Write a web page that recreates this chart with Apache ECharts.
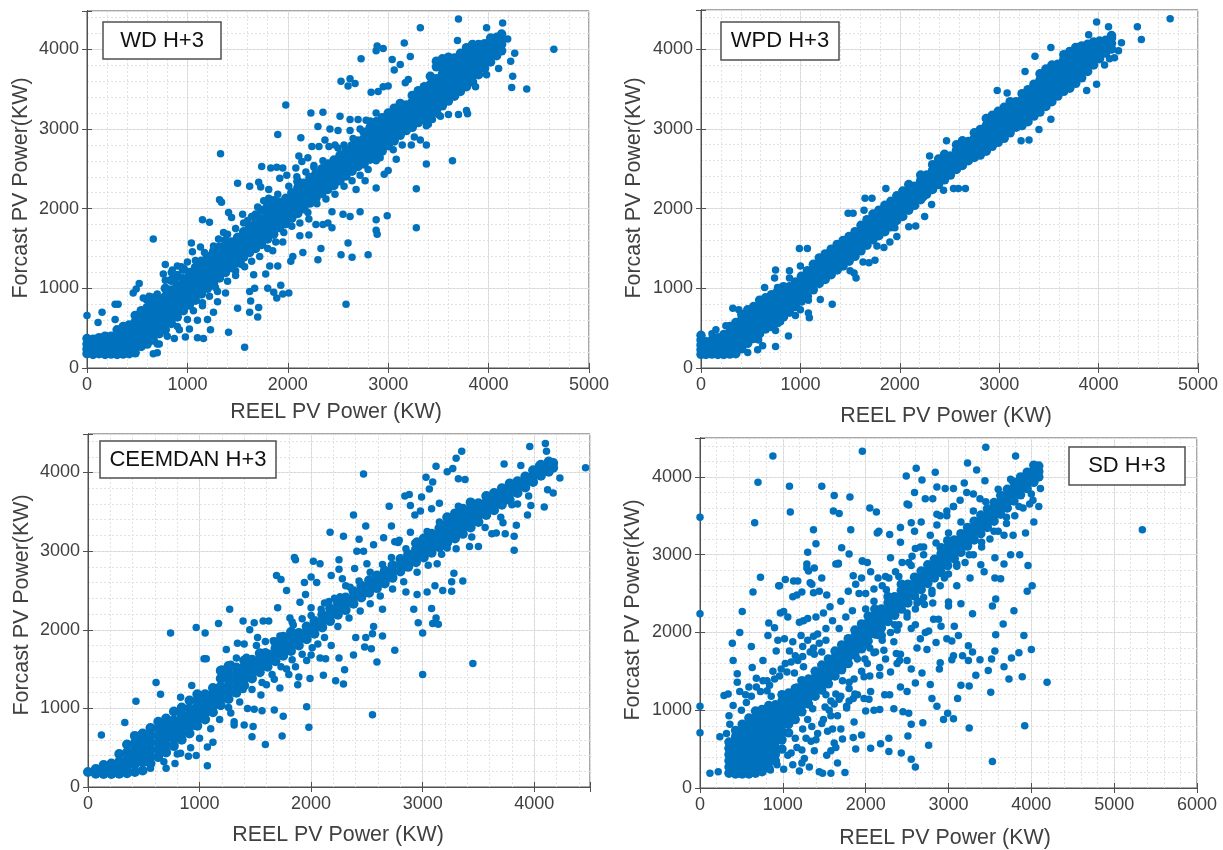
<!DOCTYPE html>
<html><head><meta charset="utf-8"><style>html,body{margin:0;background:#fff}#c{width:1223px;height:850px}</style>
<script src="https://cdn.jsdelivr.net/npm/echarts@6/dist/echarts.min.js"></script></head><body><div id="c"></div>
<script>
const titles=["WD H+3","WPD H+3","CEEMDAN H+3","SD H+3"];
const xTitle="REEL PV Power (KW)", yTitle="Forcast PV Power(KW)";
// each band row: reel value, then forecast values read at that reel value
const wdBand=[[0,180,240,300,370],[60,170,230,290,360],[120,180,240,300,380],[180,170,240,310,400],[240,175,250,320,400],[300,170,250,330,410,480],[360,175,260,340,430,520],[420,180,270,350,440,540],[480,190,290,380,480,580,660],[540,270,350,440,530,630,720],[600,300,390,480,570,660,760,860],[660,350,440,530,620,710,800,880],[720,430,510,600,690,780,860],[780,480,570,650,740,820,900,1000],[840,560,640,730,810,890,980,1100],[900,640,720,800,880,960,1040,1160],[960,720,800,880,960,1040,1120,1240],[1020,790,870,950,1030,1110,1200],[1080,850,930,1010,1090,1170,1260],[1140,930,1010,1090,1170,1250,1340],[1200,1000,1080,1160,1240,1320,1400],[1260,1060,1140,1220,1300,1380,1460],[1320,1130,1210,1290,1370,1450,1520],[1380,1200,1280,1360,1440,1520,1600],[1440,1260,1340,1420,1500,1580],[1500,1320,1400,1480,1560,1640],[1560,1390,1470,1550,1630,1710],[1620,1450,1530,1610,1690,1770],[1680,1500,1580,1660,1740,1820,1920],[1740,1550,1630,1710,1790,1870,1980],[1800,1620,1700,1780,1860,1940,2040],[1860,1680,1760,1840,1920,2000,2100],[1920,1760,1840,1920,2000,2080],[1980,1810,1890,1970,2050,2130],[2040,1880,1960,2040,2120,2200],[2100,1940,2020,2100,2180,2260,2340],[2160,2000,2080,2160,2240,2320],[2220,2070,2150,2230,2310,2390],[2280,2130,2210,2290,2370,2440],[2340,2190,2270,2350,2430,2500],[2400,2240,2320,2400,2480,2560],[2460,2290,2370,2450,2530,2610],[2520,2350,2430,2510,2590,2670],[2580,2410,2490,2570,2650,2730],[2640,2470,2550,2630,2710,2790],[2700,2530,2610,2690,2770,2850],[2760,2560,2640,2720,2800,2880,2960],[2820,2620,2700,2780,2860,2940,3020],[2880,2680,2760,2840,2920,3000,3090],[2940,2720,2800,2880,2960,3040,3140],[3000,2790,2870,2950,3030,3110,3200],[3060,2850,2930,3010,3090,3170,3260],[3120,2920,3000,3080,3160,3240,3320],[3180,2980,3060,3140,3220,3300],[3240,3020,3100,3180,3260,3340,3420],[3300,3080,3160,3240,3320,3400,3480],[3360,3120,3200,3280,3360,3440,3530],[3420,3160,3240,3320,3400,3480,3560,3660],[3480,3230,3310,3390,3470,3550,3630,3780,3850],[3540,3290,3370,3450,3530,3610,3690,3770,3880],[3600,3350,3430,3510,3590,3670,3750,3830,3900],[3660,3410,3490,3570,3650,3730,3810,3890],[3720,3470,3550,3630,3710,3790,3870,3950],[3780,3530,3610,3690,3770,3850,3930,4020],[3840,3590,3670,3750,3830,3910,3990,4060],[3900,3680,3760,3840,3920,4000,4060],[3960,3760,3840,3920,4000,4070],[4020,3840,3920,4000,4080,4140],[4080,3920,4000,4070,4150],[4130,3980,4060,4140,4190]];
const wdScatter=[4650,4000,4380,3500,4230,3520,4240,3660,4260,3950,4220,3850,4190,4130,4140,4330,3980,4270,3700,4380,3320,4270,3160,4080,3690,4110,2890,4040,2880,3980,2950,4010,3040,3870,2730,3880,3220,3910,3120,3810,2620,3630,2670,3570,2530,3600,2600,3540,1980,3300,2230,3200,2350,3210,2520,3160,1900,2930,2130,2890,2300,3030,1330,2690,1500,2320,1740,2530,1830,2510,1890,2520,1950,2510,1620,2280,1710,2330,1320,2110,1340,2080,1410,1950,1150,1860,1220,1830,660,1620,1360,1700,3640,2600,3380,2560,3380,2800,3280,2250,3280,1760,2990,1910,2880,1860,2880,1730,2890,1680,2580,800,1570,260,2800,1420,2640,1390,2530,1420,2300,1360,2600,1570,2880,2260,1410,450,1160,370,1230,480,1100,380,980,390,2010,940,1800,1000,1860,950,1930,1040,1950,930,1890,880,1710,760,1700,640,1620,700,1630,840,1500,750,1670,1000,1620,960,660,180,700,190,0,660,150,700,110,570,280,800,310,800,460,940,520,1060,490,990,280,610,2620,3120,2700,3120,2780,3110,2830,3460,2900,3470,2950,3530,3000,3540,3060,3740,3170,3580,3200,3620,2420,3000,2500,2980,2620,2980,2410,2780,2310,2780,2240,2780,2110,2660,2140,2590,2370,2860,2470,2800,1730,2270,1810,2240,1920,2380,1990,2420,2080,2510,2200,2640,2440,1960,2550,1930,2620,1900,2720,1960,2440,1760,2400,1820,2210,1870,2280,1800,2350,1800,2120,1660,2210,1670,2330,1500,2150,1450,2050,1400,1950,1580,1850,1470,2030,1340,1780,1180,1820,1280,1900,1280,1660,1170,1540,1300,1480,1160,1280,1010,1380,940,1300,830,1260,700,1200,610,1150,780,1100,600,1020,490,920,480,870,370,800,590,720,300,620,420,1040,1570,1050,1460,1130,1520,940,1270,780,1300,840,1200,880,1120,1440,1890,1550,1930,1600,1850,2260,2520,3380,3040,3440,3120,3520,3160,3700,3180,3780,3230,3870,3530,3980,3680,4100,3760,3790,3190,3600,3180,3320,2860,3230,2800,3080,2620,3000,2480,2960,2430,2880,2600,2770,2350,2680,2240];
const wdFringe=[560,880,620,900,700,930,780,1100,760,1180,850,1230,900,1280,1000,1330,1080,1350,1170,1450,1260,1530,1310,1620,1400,1680,1480,1750,1560,1820,1640,1900,1700,2020,1760,2100,1810,2130,1900,2180,2010,2280,2090,2400,2180,2460,2260,2540,2350,2600,2500,2760,2560,2800,2650,2880,2720,3000,2820,3100,2880,3200,700,300,800,400,900,520,1000,610,1060,720,1150,820,1220,900,1300,960,1400,1090,1480,1220,1570,1270,1640,1340,1720,1400,1800,1500,1880,1580,1960,1700,2040,1780,2120,1820,2200,1950,2290,2060,2380,2120,2470,2180,2560,2280,2640,2350,2720,2420,2800,2490,2920,2640,3050,2740,3140,2800,3260,2900,3400,3060,3500,3180];
const wpdBand=[[0,170,230,290,350,410],[50,170,220,280,330],[110,175,235,290,350],[170,170,240,310,380],[230,170,250,330,420],[290,175,265,350,440,520],[350,180,280,370,470,570],[410,240,330,420,510,610,670],[470,310,400,490,580,660,730],[530,370,450,530,610,690,770],[590,430,510,590,670,750,850],[650,490,560,640,720,800,880],[710,520,600,680,760,840,920],[770,570,650,730,810,890,960],[830,640,720,800,880,950,1020],[890,700,780,860,940,1020],[950,770,850,930,1010,1080],[1010,840,920,1000,1080,1150],[1070,900,980,1060,1140,1220],[1130,980,1060,1140,1220,1300],[1190,1060,1140,1220,1300,1380],[1250,1110,1190,1270,1350,1430],[1310,1170,1250,1330,1410,1490],[1370,1230,1310,1390,1470,1550],[1430,1280,1360,1440,1520,1600],[1490,1340,1420,1500,1580,1650],[1550,1400,1480,1560,1640,1710],[1610,1470,1550,1630,1710,1790],[1670,1540,1620,1700,1780,1860],[1730,1610,1690,1770,1850,1930],[1790,1660,1740,1820,1900,1980],[1850,1710,1790,1870,1950,2040],[1910,1770,1850,1930,2010,2090],[1970,1850,1930,2010,2090,2160],[2030,1900,1980,2060,2140,2220],[2090,1980,2060,2140,2220,2300],[2150,2040,2120,2200,2280],[2210,2110,2190,2270,2350,2420],[2270,2180,2260,2340,2420],[2330,2240,2320,2400,2480,2550],[2390,2300,2380,2460,2540,2620],[2450,2360,2440,2520,2600,2680],[2510,2420,2500,2580,2660],[2570,2490,2570,2650,2730,2800],[2630,2540,2620,2700,2780,2850],[2690,2600,2680,2760,2840],[2750,2640,2720,2800,2880,2950],[2810,2670,2750,2830,2910,2990],[2870,2720,2800,2880,2960,3040,3130],[2930,2780,2860,2940,3020,3100,3170],[2990,2830,2910,2990,3070,3150,3220],[3050,2880,2960,3040,3120,3200,3270],[3110,2950,3030,3110,3190,3270,3340],[3170,3020,3100,3180,3260,3340],[3230,3040,3120,3200,3280,3360,3440],[3290,3090,3170,3250,3330,3410,3490],[3350,3160,3240,3320,3400,3480,3560],[3410,3210,3290,3370,3450,3530,3610,3690],[3470,3280,3360,3440,3520,3600,3680,3750],[3530,3340,3420,3500,3580,3660,3740,3800],[3590,3410,3490,3570,3650,3730,3810],[3650,3470,3550,3630,3710,3790,3870,3930],[3710,3510,3590,3670,3750,3830,3910,3970],[3770,3570,3650,3730,3810,3890,3970,4020],[3830,3640,3720,3800,3880,3960,4040],[3890,3720,3800,3880,3960,4060],[3950,3800,3880,3960,4040,4090],[4010,3880,3960,4040,4100],[4070,3950,4030,4110],[4130,4000,4070,4140,4170]];
const wpdScatter=[4720,4380,4390,4280,4430,4120,3980,4340,4100,4280,3900,4180,4230,4080,4200,3980,4160,3890,4110,3880,4060,3800,3520,4020,3360,3910,3260,3720,3080,3450,2980,3480,3300,2860,3400,2990,3220,2850,3520,3120,3880,3480,3980,3560,2470,2850,2300,2660,1860,2250,1720,2130,1650,2130,1480,1940,1530,1940,1640,1980,2660,2250,2590,2250,2540,2250,2440,2230,2320,2050,2240,2140,1990,1880,2250,1900,2160,1780,2090,1770,1950,1760,1900,1580,1970,1650,1840,1510,1770,1530,1750,1350,1690,1320,1630,1330,1560,1130,1540,1190,1500,1220,1320,800,1090,630,1080,690,1000,730,1080,850,1200,860,990,1500,1070,1500,750,1230,740,1130,640,1010,890,1220,1000,1280,890,1130,770,1010,320,750,380,730,880,400,750,270,620,280,580,350,470,195,570,230,0,400,80,300,150,480,110,430,250,530,750,470,800,580,950,660];
const ceeBand=[[0,190],[70,170,230],[140,165,225,280],[210,165,225,300],[280,170,240,320,420],[350,175,260,350,440,540],[420,190,290,380,470,560,650],[490,210,320,410,500,590,680],[560,300,390,480,570,660,750],[630,380,470,560,650,740,830],[700,440,530,620,700,780,870],[770,520,610,690,770,850,960],[840,600,680,760,840,920,1010],[910,680,760,840,920,1000,1100],[980,780,860,940,1020,1100,1180],[1050,860,940,1020,1100,1180],[1120,950,1030,1110,1190,1260],[1190,1040,1120,1200,1280,1380,1480],[1260,1120,1200,1280,1360,1440,1540],[1330,1200,1280,1360,1440,1520],[1400,1290,1370,1450,1530,1610],[1470,1380,1460,1540,1620],[1540,1460,1540,1620,1700],[1610,1530,1610,1690],[1680,1600,1680,1760,1840],[1750,1670,1750,1830,1910],[1820,1730,1810,1890,1970],[1890,1800,1880,1960],[1960,1880,1960,2040],[2030,1950,2030,2110],[2100,2030,2110,2190],[2170,2110,2190,2270],[2240,2190,2270,2340],[2310,2250,2330,2410],[2380,2330,2410,2490],[2450,2410,2490,2560],[2520,2470,2550,2630],[2590,2530,2610,2690],[2660,2590,2670,2750],[2730,2660,2740,2820],[2800,2740,2820,2900],[2870,2800,2880,2960],[2940,2860,2940,3020,3100],[3010,2920,3000,3080,3160],[3080,2980,3060,3140,3220],[3150,3050,3130,3210,3290],[3220,3110,3190,3270,3350,3430],[3290,3160,3240,3320,3400,3480],[3360,3220,3300,3380,3460,3540],[3430,3300,3380,3460,3540,3620],[3500,3370,3450,3530,3610],[3570,3460,3540,3620,3700],[3640,3520,3600,3680,3740],[3710,3590,3670,3750,3800],[3780,3650,3730,3810,3860],[3850,3740,3820,3890],[3920,3810,3890,3950],[3990,3880,3960,4030],[4060,3960,4030,4100],[4130,4010,4080,4140],[4170,4060,4120]];
const ceeScatter=[4460,4060,4230,3930,4170,3740,4120,3780,4090,3560,3970,3580,3940,3460,3820,3010,3800,3590,3720,3360,3740,3220,3660,3230,3450,1570,3000,1430,2550,920,3000,1960,3080,2270,3120,2150,3090,2080,3140,2070,2920,2260,2960,2090,2470,3980,3350,4270,3300,4180,3960,4330,4100,4370,4110,4270,3730,4110,3880,4090,4040,4090,3320,3920,3380,3910,3120,4080,3220,4010,3270,4050,3090,3880,3030,3940,3060,3790,2990,3690,2840,3700,2880,3720,2700,3570,2890,3580,2930,3460,2980,3510,3080,3540,3150,3610,2380,3460,2170,3240,2490,3320,2290,3190,2720,3320,2430,3150,2560,3080,2650,3170,2750,3120,2790,3140,1850,2920,1860,2890,2020,2870,2080,2840,2250,2890,1690,2690,1730,2640,1270,2260,1940,2600,2000,2670,2050,2600,1700,2280,1780,2500,2250,2770,2390,2780,2410,3000,2470,3000,2500,2840,2180,2690,2280,2650,2310,2560,1390,2110,1490,2090,1570,2110,1620,2110,1170,2080,970,2030,1050,1960,740,1960,1240,1750,1340,1830,1400,1820,1040,1630,1060,1630,610,1330,430,1090,650,1180,120,660,330,820,2380,1680,2250,1640,2130,1630,2300,1490,2110,1420,2220,1350,2290,1310,2590,1590,2750,1740,2640,1920,2400,1900,2490,1900,2550,1950,2560,2040,2640,2260,2480,1780,2540,1760,2000,1680,2080,1640,1990,1380,1890,1400,1960,1610,1800,1430,1670,1370,1720,1260,1750,900,1960,1020,1980,760,1740,650,1590,540,1480,770,1470,640,1400,790,1310,790,1310,830,1280,940,1430,1000,1490,990,1560,970,1670,980,1070,270,780,300,700,240,900,390,970,400,1070,510,1120,570,830,430,920,500,830,1140,930,1290,2850,2480,2950,2450,3040,2480,3110,2560,3180,2500,3260,2490,3260,2610,3280,2720,3360,2620,3130,2840,3220,3040,3420,3060,3500,3060,3620,3220,3820,3190,3840,3330,2890,3240,2780,3110,1330,1640,1450,1480,1520,1900,1590,1850,1450,2000,2210,2400,2120,2340,2000,2280,1900,2350,1810,2150,1830,2100,1950,2450,1550,1170,1600,1300,1390,1240,1860,1530,1880,1300,1780,1500,2060,1820,2180,1800];
const ceeFringe=[1200,1500,1280,1560,1420,1650,1510,1800,1590,1720,1660,1860,1720,1920,1840,2060,1920,2140,2000,2180,2090,2260,2160,2360,2260,2420,2350,2540,2430,2620,2530,2730,2640,2830,2720,2920,2850,3030,2950,3130,3040,3250,3150,3370,3320,3570,560,240,680,320,800,420,1000,620,1100,740,1180,860,1260,1010,1360,1080,1470,1240,1560,1330,1650,1430,1730,1530,1830,1620,1920,1690,2010,1770,2120,1900,2240,2040,2340,2150,2440,2240,2530,2330,2620,2430,2730,2520,2830,2610,2950,2730,3050,2820,3170,2960,3300,3030,3440,3180,3560,3300,3700,3430,3850,3600,3950,3700];
const sdBand=[[350,190,270,350,430,510,590],[430,180,260,340,420,500,580,660,740],[510,180,260,340,420,500,580,660,740,820],[590,180,260,340,420,500,580,660,740,820,900],[670,190,270,350,430,510,590,670,750,830,910,990],[750,210,290,370,450,530,610,690,770,850,930,1010],[830,260,340,420,500,580,660,740,820,900,980,1060],[910,350,430,510,590,670,750,830,910,990,1070],[990,500,620,720,800,880,960,1040,1120,1200],[1070,710,820,900,980,1060,1140,1220],[1150,880,960,1040,1120,1200,1280],[1230,980,1060,1140,1220,1300,1380],[1310,1080,1160,1240,1320,1400],[1390,1180,1260,1340,1420,1500],[1470,1260,1340,1420,1500,1580],[1550,1340,1420,1500,1580,1660],[1630,1440,1520,1600,1680,1760],[1710,1520,1600,1680,1760,1840],[1790,1600,1680,1760,1840,1920],[1870,1710,1790,1870,1950,2030],[1950,1790,1870,1950,2030,2110],[2030,1890,1970,2050,2130,2210],[2110,1980,2060,2140,2220,2300],[2190,2060,2140,2220,2300],[2270,2140,2220,2300,2380,2460],[2350,2220,2300,2380,2460],[2430,2300,2380,2460,2540,2620],[2510,2380,2460,2540,2620],[2590,2470,2550,2630,2710],[2670,2550,2630,2710,2790],[2750,2630,2710,2790,2870],[2830,2700,2780,2860,2940],[2910,2770,2850,2930,3010,3090],[2990,2860,2940,3020,3100,3180],[3070,2950,3030,3110,3190],[3150,3030,3110,3190,3270],[3230,3110,3190,3270,3350],[3310,3190,3270,3350,3430],[3390,3270,3350,3430,3510],[3470,3350,3430,3510,3590],[3550,3430,3510,3590,3670],[3630,3520,3600,3680,3760],[3710,3600,3680,3760,3840],[3790,3690,3770,3850,3930],[3870,3770,3850,3930,4000],[3950,3850,3930,4010,4060],[4030,3930,4010,4090,4150],[4090,4000,4070,4140]];
const sdScatter=[5340,3320,4190,1360,3920,800,3530,340,2600,270,2550,370,2760,550,2430,450,2280,470,1950,680,1850,650,1880,500,2060,510,1750,200,1480,190,1580,190,1660,320,1640,520,1580,480,2180,570,2280,640,2510,670,2550,820,2690,840,2780,1330,2800,1150,2860,1050,2940,880,3060,890,2990,960,3250,770,3890,1430,3730,1400,3670,1560,4000,1780,3910,1960,3850,1740,3760,1670,3660,2110,3570,1970,3560,1760,3520,1660,3480,1510,3510,1230,3330,1450,3380,1650,3240,1640,3250,1310,3150,1320,3110,1150,3290,1750,3240,1830,3170,1700,3060,1700,3040,1650,3070,2080,2980,1920,3040,1890,3120,1960,2900,1610,2890,1530,2680,1480,2550,1530,2500,1640,2420,1720,2380,1600,2300,1490,2170,1550,2170,1450,2050,1440,1980,1430,2060,1240,2040,1140,2100,1000,1870,1210,1800,1120,1770,1050,1860,850,1660,930,1580,930,1700,760,1620,580,1230,490,1230,320,1200,220,1100,450,2000,990,2230,1200,2170,1010,2290,1200,2340,1020,2450,980,2520,960,2420,1300,2600,1350,2410,1640,2500,1240,2220,1770,2370,1730,2620,1800,2740,1780,2850,1870,2720,2000,2760,2020,2660,1920,2600,2100,2550,2050,2820,2170,2880,2170,2910,2080,3000,2340,3150,2370,3290,2240,3530,2340,3570,2430,3630,2690,3560,2700,3670,2880,3560,2960,3750,3000,3860,3000,3960,2860,3950,2530,4010,2600,3930,3280,4030,3420,4090,3620,4020,3700,4110,3850,3980,3650,3780,3250,3670,3250,3430,2780,3390,2870,3260,2700,3100,2600,3000,2390,2620,2380,2710,2360,2810,2380,2360,2420,3790,2280,2050,3600,2130,3550,1810,3740,1620,3760,1610,3560,1680,3530,1090,3550,1080,3880,1470,3880,700,3930,660,3410,880,4270,1960,4330,3450,4380,3810,4270,3230,4180,2610,4110,2840,4060,3440,3950,3340,4090,2490,4010,2680,3960,2590,3800,2720,3720,2810,3720,3190,3920,2960,3850,3060,3850,2860,3870,2500,3650,2520,3640,2550,3410,2420,3350,2670,3420,2860,3520,2980,3500,3060,3620,2160,3300,2140,3280,2290,3260,1370,3320,1820,3320,1710,3090,1400,3140,1300,3030,1800,3010,1960,2920,2020,2900,1670,2890,1640,2880,1180,2660,1120,2460,960,2600,1030,2680,1310,2790,1330,2640,1370,2510,1250,2150,0,3480,0,2240,0,1050,0,710,510,2270,480,2000,390,1860,620,1820,760,1640,730,2710,640,2520,970,2250,1010,2270,950,2600,1170,2480,1130,2660,1230,2520,1350,2620,1440,2530,1530,2480,1470,2700,1380,2830,1290,2830,1290,2880,1950,2700,1880,2620,1790,2530,1700,2400,1670,2880,1850,2730,1960,2920,2060,2780,2150,2700,2240,2720,2300,2960,2420,3160,2560,2980,2590,3300,2660,3100,1060,2200,1200,2130,1300,2180,1400,2200,1490,2250,1570,2330,830,2120,820,1960,900,2060,940,1900,1020,1920,1120,1880,1220,1960,1370,1950,1420,1980,1520,1900,920,1760,1080,1760,1150,1700,1240,1690,1330,1750,1370,1800,1470,1750,810,1380,880,1500,980,1530,1050,1490,1140,1480,1250,1560,630,1550,680,1410,730,1240,810,1250,860,1180,340,1210,450,1470,450,1360,400,1640,480,1240,550,1200,590,1300,400,1060,350,930,290,1190,360,820,240,660,320,700,120,190,220,210,1280,640,1400,620,1470,830,1350,790,1520,1200,1640,1210,1720,1380,1680,1140,1770,1030,1650,1620,1720,1540,1800,1360,1990,1660,2100,1740,2240,1660,1980,1840,2150,1960,2380,2030,2340,1880,1170,1300,1100,1080,1230,1130,1330,1180,1510,1040,1580,1120,1850,1150,1980,1150,1450,1320,1300,880,1360,1020,1540,730,1600,760,1720,630,1900,1200,850,230,930,300,1010,240,1060,420,1120,300,1170,520,1260,380,1320,270,1380,480,1440,210,1530,420,900,610,980,680,1150,640,1240,760,1340,600,1420,700,1490,880,1560,1000,1620,1080,1700,1180,1800,1280,1860,1400,1950,1500,2020,1600,2120,1750,500,1000,560,1100,620,1180,680,1300,760,1380,840,1320,900,1400,960,1440,1030,1600,1100,1620,1180,1640,1240,1820,1300,1900,1380,1720,1440,1860,1520,2050,1600,2150,1680,2050,1760,2200,1840,2280,1920,2500,2000,2500,2100,2560,2200,2600,2280,2700,2360,2780,2440,2900,2520,2900,2600,3080,2700,3100,2780,3250,2860,3380,2900,3500,2980,3560,3060,3620,3140,3700,3220,3800,3300,3780,3380,3720,2200,1900,2300,2000,2400,2100,2500,2200,2600,2300,2700,2450,2800,2500,2900,2600,3000,2750,3100,2850,3200,2900,3300,3000,3400,3100,3500,3200,3600,3300,3700,3400,3800,3500,3900,3600];
const sdFringe=[2000,2300,2100,2400,2250,2550,2400,2720,2550,2860,2700,3000,2850,3150,3000,3280,3150,3420,3300,3560,3450,3680,3600,3840,3750,3970,1900,1660,2050,1800,2200,1960,2350,2100,2500,2250,2650,2400,2800,2540,2950,2700,3100,2880,3250,3000,3400,3160,3550,3300,3700,3480,3850,3620,4000,3780];
const panels=[
 {band:wdBand,scatter:wdScatter.concat(wdFringe),bandSize:9.5,xMax:5000,yMax:4480,grid:[87,11,589,368],box:[103,22,118,37],xName:[336,412],yName:[21,188]},
 {band:wpdBand,scatter:wpdScatter,bandSize:9.5,xMax:5000,yMax:4490,grid:[701,10,1198,368],box:[721,22,118,38],xName:[946,416],yName:[634,188]},
 {band:ceeBand,scatter:ceeScatter.concat(ceeFringe),bandSize:10,xMax:4500,yMax:4490,grid:[88,434,590,787],box:[100,441,176,37],xName:[338,835],yName:[22,605]},
 {band:sdBand,scatter:sdScatter.concat(sdFringe),bandSize:9.5,xMax:6000,yMax:4500,grid:[700,438,1197,788],box:[1069,447,116,38],xName:[945,838],yName:[633,610]}
];
const ink="#505050",major="#d8d8d8",minor="#e2e2e2",dot="#0072bd",font="Liberation Sans";
function bandPairs(rows){const d=[];rows.forEach(r=>{for(let i=1;i<r.length;i++)d.push([r[0],r[i]])});return d}
function flatPairs(a){const d=[];for(let i=0;i<a.length;i+=2)d.push([a[i],a[i+1]]);return d}
const grids=[],xs=[],ys=[],series=[],graphic=[];
panels.forEach((p,i)=>{
 const [l,t,r,b]=p.grid;
 grids.push({left:l,top:t,width:r-l,height:b-t,show:true,borderColor:ink,borderWidth:1,backgroundColor:"#fff"});
 const lab={color:"#404040",fontSize:18,fontFamily:font,margin:8,formatter:v=>v%1000===0?String(v):""};
 const line={show:true,lineStyle:{color:ink,width:1}};
 const fine=m=>({type:"value",gridIndex:i,min:0,max:m,interval:200,axisLine:line,axisTick:{show:false},axisLabel:{show:false},splitLine:{show:true,lineStyle:{color:minor,width:1,type:[2,2]}}});
 const main=m=>({type:"value",gridIndex:i,min:0,max:m,interval:1000,axisLine:line,axisTick:{show:true,inside:true,length:5,lineStyle:{color:ink}},axisLabel:lab,splitLine:{show:true,lineStyle:{color:major,width:1}}});
 const tick=m=>({type:"value",gridIndex:i,min:0,max:m,interval:1000,axisLine:line,axisTick:{show:true,inside:true,length:5,lineStyle:{color:ink}},axisLabel:{show:false},splitLine:{show:false}});
 xs.push({...main(p.xMax),position:"bottom"},{...fine(p.xMax),position:"top"},{...tick(p.xMax),position:"top"});
 ys.push({...main(p.yMax),position:"left"},{...fine(p.yMax),position:"right"},{...tick(p.yMax),position:"right"});
 const common={type:"scatter",xAxisIndex:3*i,yAxisIndex:3*i,itemStyle:{color:dot,opacity:1},silent:true,animation:false,clip:false,z:5};
 series.push({...common,data:bandPairs(p.band),symbolSize:p.bandSize});
 series.push({...common,data:flatPairs(p.scatter),symbolSize:7.5});
 graphic.push({type:"text",x:p.xName[0],y:p.xName[1],z:10,style:{text:xTitle,fill:"#404040",font:`21.4px "${font}"`,align:"center",verticalAlign:"middle"}});
 graphic.push({type:"text",x:p.yName[0],y:p.yName[1],rotation:Math.PI/2,z:10,style:{text:yTitle,fill:"#404040",font:`21.4px "${font}"`,align:"center",verticalAlign:"middle"}});
 const [bx,by,bw,bh]=p.box;
 graphic.push({type:"rect",shape:{x:bx,y:by,width:bw,height:bh},z:20,style:{fill:"#fff",stroke:"#505050",lineWidth:1.5}});
 graphic.push({type:"text",x:bx+bw/2,y:by+bh/2,z:21,style:{text:titles[i],fill:"#111",font:`22px "${font}"`,align:"center",verticalAlign:"middle"}});
});
const chart=echarts.init(document.getElementById("c"),null,{renderer:"canvas"});
chart.setOption({animation:false,backgroundColor:"#fff",grid:grids,xAxis:xs,yAxis:ys,series,graphic});
</script></body></html>
